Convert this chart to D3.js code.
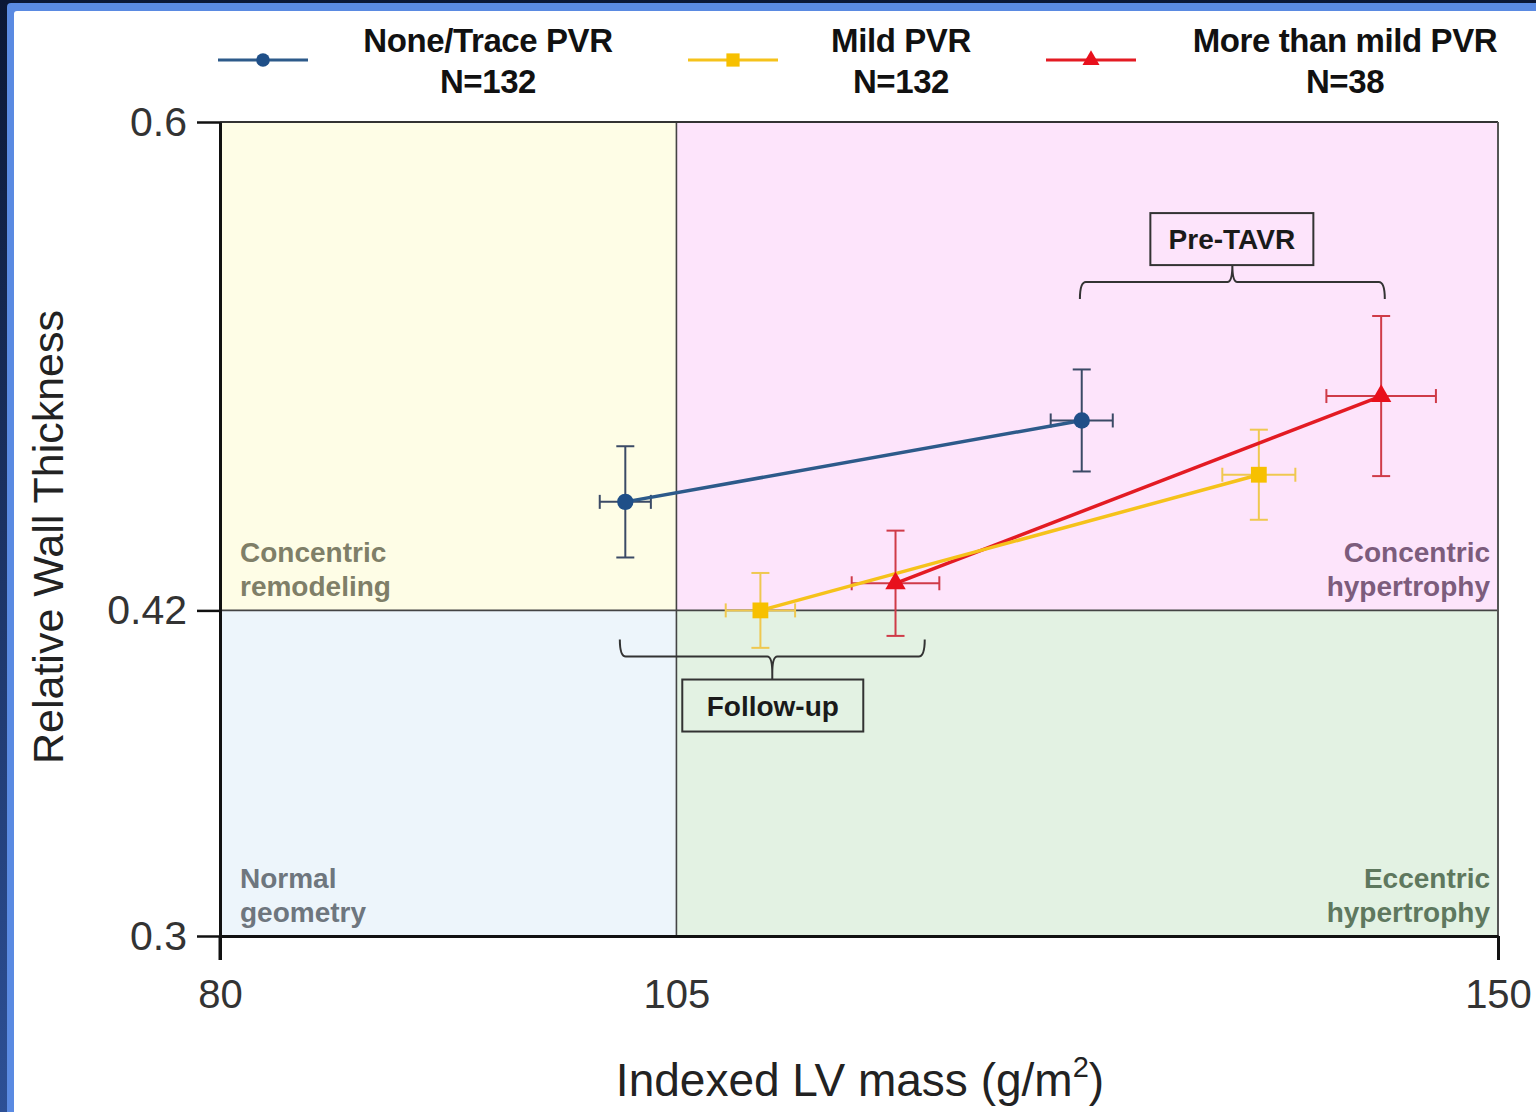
<!DOCTYPE html>
<meta charset="utf-8">
<script src="https://d3js.org/d3.v7.min.js"></script>
<style>
  body { margin: 0; background: #0c1a3a; }
  text { font-family: "Liberation Sans", Arial, sans-serif; }
</style>
<div id="vis"></div>

<script>

// chart values
var series = ["None/Trace PVR", "Mild PVR", "More than mild PVR"];
var nLabels = ["N=132", "N=132", "N=38"];

// follow-up point and pre-TAVR point per series (x = indexed LV mass, y = RWT)
var followX = [102.2, 109.6, 117.0];
var followY = [0.460, 0.420, 0.430];
var followXErr = [1.4, 1.9, 2.4];
var followYErr = [0.0205, 0.0138, 0.0194];

var preX = [127.2, 136.9, 143.6];
var preY = [0.490, 0.470, 0.499];
var preXErr = [1.7, 2.0, 3.0];
var preYErr = [0.0188, 0.0166, 0.0295];

var xTicks = [80, 105, 150];
var yTicks = [0.3, 0.42, 0.6];

// cut-offs between geometry groups
var massCut = 105;
var rwtCut = 0.42;

var quadrants = [
  {x0: 80, x1: 105, y0: 0.42, y1: 0.6, fill: "#fefde6"},
  {x0: 105, x1: 150, y0: 0.42, y1: 0.6, fill: "#fde4fb"},
  {x0: 80, x1: 105, y0: 0.3, y1: 0.42, fill: "#edf5fb"},
  {x0: 105, x1: 150, y0: 0.3, y1: 0.42, fill: "#e3f2e3"}
];

var colors = ["#2d5a8a", "#f5c21b", "#e31b23"];
var markerColors = ["#1f4f88", "#f7c000", "#e8101c"];
var errColors = ["#3b4a66", "#efc850", "#cf3b48"];

// page size and plot area
var W = 1536, H = 1112;
var margin = {top: 122, right: 38, bottom: 176, left: 220},
    width = W - margin.left - margin.right,
    height = H - margin.top - margin.bottom;

var root = d3.select("#vis")
  .append("svg")
    .attr("width", W)
    .attr("height", H);

// dark slide frame + blue border + white panel
var grad = root.append("defs").append("linearGradient")
    .attr("id", "frame").attr("x1", 0).attr("y1", 0).attr("x2", 0).attr("y2", 1);
grad.append("stop").attr("offset", "0%").attr("stop-color", "#0b1735");
grad.append("stop").attr("offset", "100%").attr("stop-color", "#2d5096");

root.append("rect").attr("width", W).attr("height", H).attr("fill", "url(#frame)");
root.append("rect").attr("x", 7).attr("y", 3).attr("width", W).attr("height", H)
    .attr("rx", 4).attr("fill", "#5a8ae2");
root.append("rect").attr("x", 14).attr("y", 11).attr("width", W).attr("height", H)
    .attr("rx", 3).attr("fill", "#ffffff");

var svg = root.append("g")
    .attr("transform", "translate(" + margin.left + "," + margin.top + ")");

var x = d3.scaleLinear().domain([80, 150]).range([0, width]);
var y = d3.scaleLinear().domain([0.3, 0.6]).range([height, 0]);

// background quadrants
svg.selectAll("rect.quad")
  .data(quadrants)
  .enter()
  .append("rect")
    .attr("class", "quad")
    .attr("x", function (d) { return x(d.x0); })
    .attr("y", function (d) { return y(d.y1); })
    .attr("width", function (d) { return x(d.x1) - x(d.x0); })
    .attr("height", function (d) { return y(d.y0) - y(d.y1); })
    .attr("fill", function (d) { return d.fill; });

// divider lines and top/right frame
svg.append("line")
    .attr("x1", x(massCut)).attr("x2", x(massCut))
    .attr("y1", y(0.6)).attr("y2", y(0.3))
    .attr("stroke", "#444").attr("stroke-width", 1.6);
svg.append("line")
    .attr("x1", x(80)).attr("x2", x(150))
    .attr("y1", y(rwtCut)).attr("y2", y(rwtCut))
    .attr("stroke", "#444").attr("stroke-width", 1.6);
svg.append("line")
    .attr("x1", x(80)).attr("x2", x(150))
    .attr("y1", y(0.6)).attr("y2", y(0.6))
    .attr("stroke", "#333").attr("stroke-width", 2);
svg.append("line")
    .attr("x1", x(150)).attr("x2", x(150))
    .attr("y1", y(0.6)).attr("y2", y(0.3))
    .attr("stroke", "#555").attr("stroke-width", 2);

// quadrant labels
var qLabels = [
  {lines: ["Concentric", "remodeling"], x: 80, y: 0.42, anchor: "start", color: "#7f7f68"},
  {lines: ["Concentric", "hypertrophy"], x: 150, y: 0.42, anchor: "end", color: "#7c5c7c"},
  {lines: ["Normal", "geometry"], x: 80, y: 0.3, anchor: "start", color: "#6e767e"},
  {lines: ["Eccentric", "hypertrophy"], x: 150, y: 0.3, anchor: "end", color: "#5e785e"}
];
qLabels.forEach(function (q) {
  var t = svg.append("text")
      .attr("x", x(q.x) + (q.anchor === "start" ? 20 : -8))
      .attr("y", y(q.y) - 48)
      .attr("text-anchor", q.anchor)
      .style("font-size", "28px")
      .style("font-weight", "bold")
      .style("fill", q.color);
  q.lines.forEach(function (l, i) {
    t.append("tspan").attr("x", x(q.x) + (q.anchor === "start" ? 20 : -8))
      .attr("dy", i === 0 ? 0 : 34).text(l);
  });
});

// brackets
function bracket(xa, xb, yv, dir, label, boxFill, gap) {
  var ya = y(yv), x0 = x(xa), x1 = x(xb), xm = (x0 + x1) / 2;
  var h = 17 * dir;
  svg.append("path")
      .attr("d", "M" + x0 + "," + (ya + h) + " Q" + x0 + "," + ya + " " + (x0 + 6) + "," + ya +
                 " L" + (xm - 5) + "," + ya + " Q" + xm + "," + ya + " " + xm + "," + (ya - h) +
                 " L" + xm + "," + (ya - h - gap * dir) +
                 " M" + xm + "," + (ya - h) +
                 " Q" + xm + "," + ya + " " + (xm + 5) + "," + ya +
                 " L" + (x1 - 6) + "," + ya + " Q" + x1 + "," + ya + " " + x1 + "," + (ya + h))
      .attr("fill", "none").attr("stroke", "#333").attr("stroke-width", 2);
  var bw = label === "Pre-TAVR" ? 163 : 181, bh = 52;
  var by = dir > 0 ? ya - h - gap - bh : ya - h + gap;
  var bx = label === "Pre-TAVR" ? xm - 82 : xm - 90;
  svg.append("rect")
      .attr("x", bx).attr("y", by).attr("width", bw).attr("height", bh)
      .attr("fill", boxFill).attr("stroke", "#333").attr("stroke-width", 2);
  svg.append("text")
      .attr("x", bx + bw / 2).attr("y", by + bh / 2 + 10)
      .attr("text-anchor", "middle")
      .style("font-size", "28px").style("font-weight", "bold").style("fill", "#1a1a1a")
      .text(label);
}
bracket(127.1, 143.8, 0.541, 1, "Pre-TAVR", "#fde4fb", 0);
bracket(101.9, 118.6, 0.403, -1, "Follow-up", "#e3f2e3", 6);

// series data
var data = series.map(function (s, i) {
  return {
    name: s, i: i,
    pts: [
      {x: followX[i], y: followY[i], ex: followXErr[i], ey: followYErr[i]},
      {x: preX[i], y: preY[i], ex: preXErr[i], ey: preYErr[i]}
    ]
  };
});

// error bars
data.forEach(function (d) {
  var g = svg.append("g").attr("stroke", errColors[d.i]).attr("stroke-width", 2).attr("fill", "none");
  d.pts.forEach(function (p) {
    var cx = x(p.x), cy = y(p.y);
    g.append("line").attr("x1", cx).attr("x2", cx).attr("y1", y(p.y + p.ey)).attr("y2", y(p.y - p.ey));
    g.append("line").attr("x1", cx - 9).attr("x2", cx + 9).attr("y1", y(p.y + p.ey)).attr("y2", y(p.y + p.ey));
    g.append("line").attr("x1", cx - 9).attr("x2", cx + 9).attr("y1", y(p.y - p.ey)).attr("y2", y(p.y - p.ey));
    g.append("line").attr("x1", x(p.x - p.ex)).attr("x2", x(p.x + p.ex)).attr("y1", cy).attr("y2", cy);
    g.append("line").attr("x1", x(p.x - p.ex)).attr("x2", x(p.x - p.ex)).attr("y1", cy - 7).attr("y2", cy + 7);
    g.append("line").attr("x1", x(p.x + p.ex)).attr("x2", x(p.x + p.ex)).attr("y1", cy - 7).attr("y2", cy + 7);
  });
});

// connecting lines
var line = d3.line().x(function (p) { return x(p.x); }).y(function (p) { return y(p.y); });
[0, 2, 1].forEach(function (i) {
  svg.append("path")
      .datum(data[i].pts)
      .attr("d", line)
      .attr("fill", "none")
      .attr("stroke", colors[i])
      .attr("stroke-width", 3.5);
});

// markers
var symbols = [d3.symbolCircle, d3.symbolSquare, d3.symbolTriangle];
var symSize = [210, 250, 180];
data.forEach(function (d) {
  svg.selectAll("path.m" + d.i)
    .data(d.pts)
    .enter()
    .append("path")
      .attr("class", "m" + d.i)
      .attr("transform", function (p) { return "translate(" + x(p.x) + "," + y(p.y) + ")"; })
      .attr("d", d3.symbol().type(symbols[d.i]).size(symSize[d.i]))
      .attr("fill", markerColors[d.i]);
});

// axes
var xAxis = svg.append("g")
    .attr("transform", "translate(0," + height + ")")
    .call(d3.axisBottom(x).tickValues(xTicks).tickSize(24).tickSizeOuter(0).tickPadding(20)
      .tickFormat(d3.format("d")));
xAxis.select(".domain").attr("stroke", "#111").attr("stroke-width", 3);
xAxis.selectAll(".tick line").attr("stroke", "#111").attr("stroke-width", 3)
    .filter(function (d) { return d === 105; }).remove();
xAxis.selectAll(".tick text")
    .style("font-size", "40px").style("fill", "#333")
    .style("font-family", "'Liberation Sans', Arial, sans-serif");

var yAxis = svg.append("g")
    .call(d3.axisLeft(y).tickValues(yTicks).tickSize(23).tickSizeOuter(0).tickPadding(10)
      .tickFormat(function (d) { return String(d); }));
yAxis.select(".domain").attr("stroke", "#111").attr("stroke-width", 3);
yAxis.selectAll(".tick line").attr("stroke", "#111").attr("stroke-width", 2.5);
yAxis.selectAll(".tick text")
    .style("font-size", "41px").style("fill", "#333")
    .style("font-family", "'Liberation Sans', Arial, sans-serif");
// left axis runs down past the bottom axis like the ticks below it
svg.append("line").attr("x1", 0).attr("x2", 0).attr("y1", height).attr("y2", height + 24)
    .attr("stroke", "#111").attr("stroke-width", 3);

// axis titles
var xt = root.append("text")
    .attr("x", 860).attr("y", 1096)
    .attr("text-anchor", "middle")
    .style("font-size", "46px").style("fill", "#222");
xt.append("tspan").text("Indexed LV mass (g/m");
xt.append("tspan").attr("dy", -19).style("font-size", "29px").text("2");
xt.append("tspan").attr("dy", 19).text(")");

root.append("text")
    .attr("transform", "translate(63,537) rotate(-90)")
    .attr("text-anchor", "middle")
    .style("font-size", "43px").style("fill", "#222")
    .text("Relative Wall Thickness");

// legend
var legendX = [218, 688, 1046];
var legendTextX = [488, 901, 1345];
series.forEach(function (s, i) {
  var lg = root.append("g");
  lg.append("line")
      .attr("x1", legendX[i]).attr("x2", legendX[i] + 90)
      .attr("y1", 60).attr("y2", 60)
      .attr("stroke", colors[i]).attr("stroke-width", 3);
  lg.append("path")
      .attr("transform", "translate(" + (legendX[i] + 45) + ",60)")
      .attr("d", d3.symbol().type(symbols[i]).size(symSize[i] * 0.7))
      .attr("fill", markerColors[i]);
  lg.append("text")
      .attr("x", legendTextX[i]).attr("y", 52)
      .attr("text-anchor", "middle")
      .style("font-size", "33px").style("font-weight", "bold")
      .style("letter-spacing", "-0.4px").style("fill", "#111")
      .text(s);
  lg.append("text")
      .attr("x", legendTextX[i]).attr("y", 93)
      .attr("text-anchor", "middle")
      .style("font-size", "33px").style("font-weight", "bold")
      .style("letter-spacing", "-0.4px").style("fill", "#111")
      .text(nLabels[i]);
});

</script>
